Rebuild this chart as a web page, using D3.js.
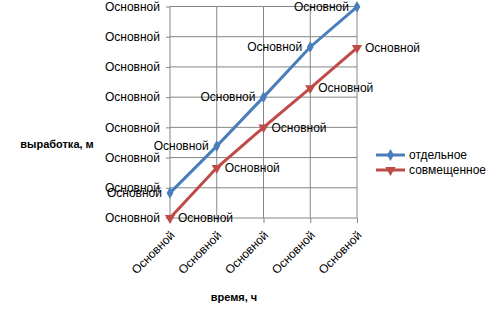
<!DOCTYPE html>
<html><head><meta charset="utf-8">
<script src="https://cdn.jsdelivr.net/npm/d3@7"></script>
<style>
html,body{margin:0;padding:0;background:#fff;}
text{font-family:"Liberation Sans",Arial,sans-serif;fill:#000;}
</style></head>
<body>
<svg id="c" width="500" height="326"></svg>
<script>
const categories = ["Основной","Основной","Основной","Основной","Основной"];
const yTickValues = [0,1,2,3,4,5,6,7];
const yTickLabels = ["Основной","Основной","Основной","Основной","Основной","Основной","Основной","Основной"];
const seriesNames = ["отдельное","совмещенное"];
const separateValues = [0.83, 2.38, 4.0, 5.66, 6.99];
const combinedValues = [0.0, 1.66, 3.0, 4.3, 5.63];
const dataLabelText = "Основной";
const yTitle = "выработка, м";
const xTitle = "время, ч";

const svg = d3.select("#c");
const L = 170, R = 357, T = 6.5, B = 218;
const x = d3.scalePoint().domain(d3.range(categories.length)).range([L, R]);
const y = d3.scaleLinear().domain([0, 7]).range([B, T]);
const grid = "#868686";

const yAxis = d3.axisLeft(y).tickValues(yTickValues).tickSize(4).tickPadding(6)
  .tickFormat((d,i) => yTickLabels[i]);
svg.append("g").selectAll("line.h").data(yTickValues).join("line")
  .attr("x1", L).attr("x2", R).attr("y1", d => y(d)).attr("y2", d => y(d))
  .attr("stroke", grid).attr("stroke-width", 1);
svg.append("g").selectAll("line.v").data(d3.range(categories.length)).join("line")
  .attr("x1", d => x(d)).attr("x2", d => x(d)).attr("y1", T).attr("y2", B)
  .attr("stroke", grid).attr("stroke-width", 1);

const gy = svg.append("g").attr("transform", `translate(${L},0)`).call(yAxis);
gy.select(".domain").remove();
gy.selectAll("line").attr("stroke", grid);
gy.selectAll("text").style("font-size", "12px").attr("x", -10);

const xAxis = d3.axisBottom(x).tickSize(5).tickFormat(i => categories[i]);
const gx = svg.append("g").attr("transform", `translate(0,${B})`).call(xAxis);
gx.select(".domain").remove();
gx.selectAll("line").attr("stroke", grid);
gx.selectAll("text").style("font-size", "12px")
  .attr("text-anchor", "end").attr("dy", "0.35em").attr("y", 0)
  .attr("transform", "translate(2,15) rotate(-45)");

svg.append("text").attr("x", 57).attr("y", 145).attr("text-anchor", "middle")
  .attr("dominant-baseline", "middle").style("font-size", "11px").style("font-weight", "bold").text(yTitle);
svg.append("text").attr("x", 234).attr("y", 298).attr("text-anchor", "middle")
  .attr("dominant-baseline", "middle").style("font-size", "11px").style("font-weight", "bold").text(xTitle);

const colors = ["#4a7ebb", "#be4b48"];
const series = [separateValues, combinedValues];
const line = d3.line().x((d,i) => x(i)).y(d => y(d));
const diamond = d3.symbol().type(d3.symbolDiamond).size(40);
const tri = d3.symbol().type(d3.symbolTriangle).size(45);

series.forEach((vals, s) => {
  svg.append("path").datum(vals).attr("d", line).attr("fill", "none")
    .attr("stroke", colors[s]).attr("stroke-width", 3);
  svg.append("g").selectAll("path").data(vals).join("path")
    .attr("d", s === 0 ? diamond() : tri())
    .attr("transform", (d,i) => `translate(${x(i)},${y(d)})` + (s === 1 ? " rotate(180)" : ""))
    .attr("fill", colors[s]);
  svg.append("g").selectAll("text").data(vals).join("text")
    .attr("x", (d,i) => s === 0 ? x(i) - 8 : x(i) + 8)
    .attr("y", d => y(d)).attr("dy", "0.35em")
    .attr("text-anchor", s === 0 ? "end" : "start")
    .style("font-size", "12px").text(dataLabelText);
});

const lg = svg.append("g");
seriesNames.forEach((n, s) => {
  const ly = 155 + s * 15;
  lg.append("line").attr("x1", 376).attr("x2", 405).attr("y1", ly).attr("y2", ly)
    .attr("stroke", colors[s]).attr("stroke-width", 3);
  lg.append("path").attr("d", s === 0 ? diamond() : tri())
    .attr("transform", `translate(390.5,${ly})` + (s === 1 ? " rotate(180)" : ""))
    .attr("fill", colors[s]);
  lg.append("text").attr("x", 409).attr("y", ly).attr("dy", "0.35em")
    .style("font-size", "12px").text(n);
});
</script>
</body></html>
